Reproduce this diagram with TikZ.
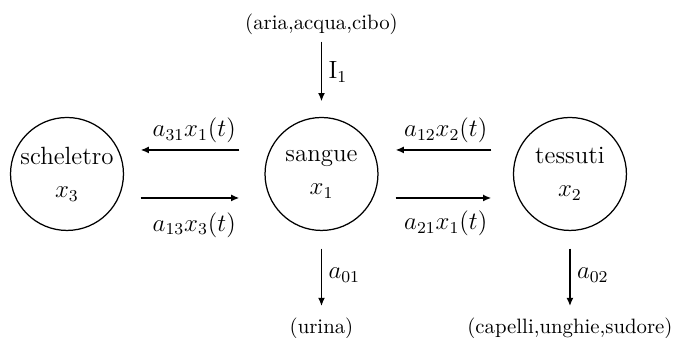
\documentclass[tikz,border=0pt]{standalone}
\usepackage{tikz}
\usetikzlibrary{positioning,arrows.meta}

\begin{document}
\begin{tikzpicture}[
  comp/.style={circle,draw,line width=0.6pt,minimum size=1.91cm,inner sep=0pt,align=center,font=\large},
  flow/.style={-{Latex[length=4pt,width=3.4pt]},line width=0.8pt},
  lbl/.style={font=\large,inner sep=3pt}]
\useasboundingbox (0,0) rectangle (11.5,-5.716);
% compartments
\node[comp] (x3) at (1.133,-2.942) {\makebox[0pt]{scheletro}\\[2pt]$x_3$};
\node[comp] (x1) at (5.437,-2.942) {sangue\\[2pt]$x_1$};
\node[comp] (x2) at (9.639,-2.942) {tessuti\\[2pt]$x_2$};
% sources and sinks
\node (food) at (5.437,-0.406) {(aria,acqua,cibo)};
\node (urina) at (5.437,-5.547) {(urina)};
\node (hair) at (9.639,-5.547) {(capelli,unghie,sudore)};
% intake and losses
\draw[flow,shorten >=0.262cm] (food) -- (x1) node[lbl,pos=0.4,right] {$\mathrm{I}_1$};
\draw[flow,shorten <=0.296cm,shorten >=0.07cm] (x1) -- (urina) node[lbl,pos=0.56,right] {$a_{01}$};
\draw[flow,shorten <=0.296cm,shorten >=0.07cm] (x2) -- (hair) node[lbl,pos=0.56,right] {$a_{02}$};
% exchanges
\draw[flow,shorten <=0.423cm,shorten >=0.279cm] ([yshift=0.406cm]x1.west) -- ([yshift=0.406cm]x3.east)
  node[lbl,midway,above] {$a_{31}x_1(t)$};
\draw[flow,shorten <=0.279cm,shorten >=0.423cm] ([yshift=-0.406cm]x3.east) -- ([yshift=-0.406cm]x1.west)
  node[lbl,midway,below=3.5pt] {$a_{13}x_3(t)$};
\draw[flow,shorten <=0.364cm,shorten >=0.287cm] ([yshift=0.406cm]x2.west) -- ([yshift=0.406cm]x1.east)
  node[lbl,midway,above] {$a_{12}x_2(t)$};
\draw[flow,shorten <=0.287cm,shorten >=0.364cm] ([yshift=-0.406cm]x1.east) -- ([yshift=-0.406cm]x2.west)
  node[lbl,midway,below=3pt] {$a_{21}x_1(t)$};
\end{tikzpicture}
\end{document}
